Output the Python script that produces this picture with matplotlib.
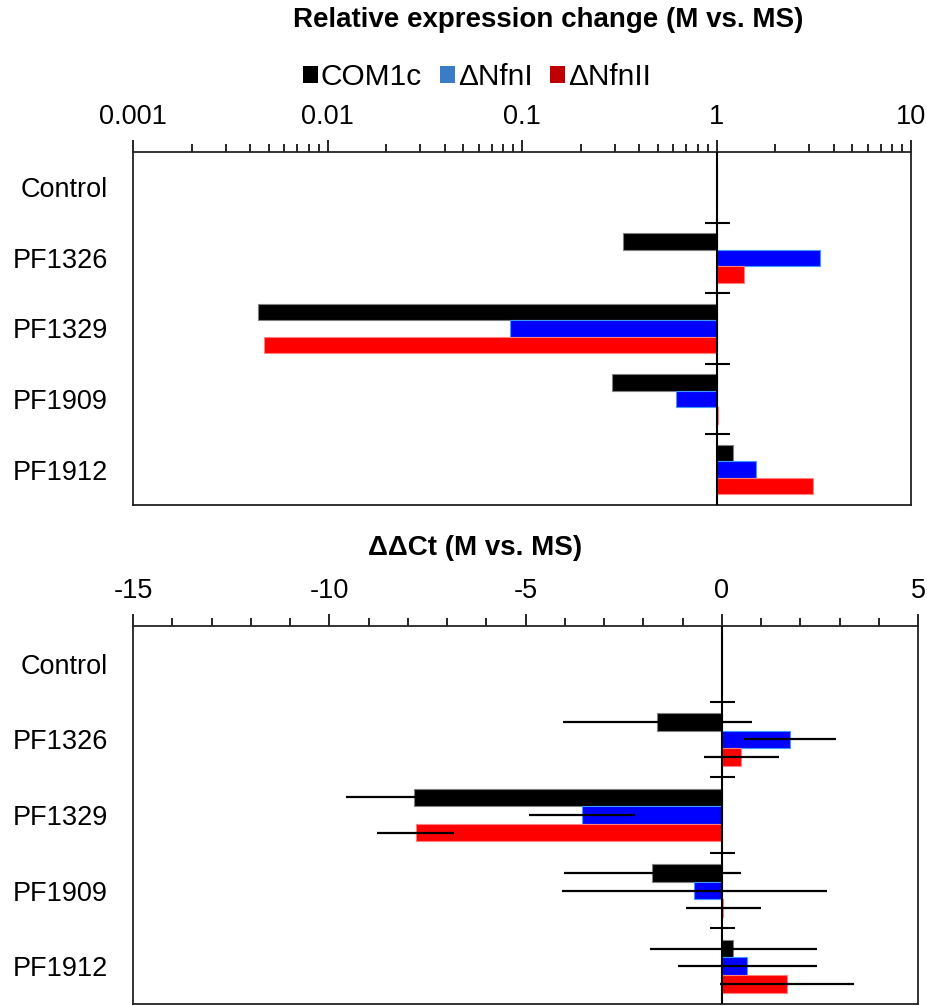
import matplotlib
matplotlib.use("Agg")
import matplotlib.pyplot as plt
from matplotlib.patches import Patch
from matplotlib.ticker import FixedLocator, NullFormatter
import numpy as np

plt.rcParams['font.family'] = ['Liberation Sans', 'DejaVu Sans']

# ---- data ----
genes = ["Control", "PF1326", "PF1329", "PF1909", "PF1912"]
strains = ["COM1c", "\u0394NfnI", "\u0394NfnII"]

# relative expression change (M vs. MS), log axis
rel_com1c = [1.0, 0.33, 0.0044, 0.29, 1.22]
rel_nfn1 = [1.0, 3.39, 0.087, 0.62, 1.59]
rel_nfn2 = [1.0, 1.39, 0.0047, 1.02, 3.12]

# ddCt (M vs. MS) with error
ddct_com1c = [0.0, -1.64, -7.85, -1.77, 0.29]
ddct_nfn1 = [0.0, 1.74, -3.57, -0.70, 0.65]
ddct_nfn2 = [0.0, 0.50, -7.80, 0.04, 1.67]
err_com1c = [0.0, 2.40, 1.73, 2.25, 2.13]
err_nfn1 = [0.0, 1.17, 1.35, 3.37, 1.77]
err_nfn2 = [0.0, 0.95, 0.99, 0.95, 1.71]

top_ticks = [0.001, 0.01, 0.1, 1, 10]
top_labels = ["0.001", "0.01", "0.1", "1", "10"]
bot_ticks = [-15, -10, -5, 0, 5]
bot_labels = ["-15", "-10", "-5", "0", "5"]

bar_colors = ["#000000", "#0000ff", "#ff0000"]
edge_colors = ["#808080", "#3d9bff", "#ff8080"]
legend_colors = ["#000000", "#3a7dc6", "#c00000"]

W, H = 927, 1006
fig = plt.figure(figsize=(W / 100, H / 100), dpi=100)

ax1 = fig.add_axes([133 / W, 1 - 505 / H, (911 - 133) / W, (505 - 152) / H])
ax2 = fig.add_axes([133 / W, 1 - 1004 / H, (918 - 133) / W, (1004 - 626) / H])

y = np.arange(len(genes))
h = 0.7 / 3
offsets = [-h, 0, h]


def style_axis(ax, base):
    for s in ax.spines.values():
        s.set_linewidth(1.3)
        s.set_color("#222222")
    ax.xaxis.tick_top()
    ax.tick_params(axis="x", which="major", direction="out", length=9, width=1.2,
                   labelsize=19.5, pad=7)
    ax.tick_params(axis="x", which="minor", direction="out", length=6, width=1.2)
    ax.set_yticks(y)
    ax.set_yticklabels(genes)
    ax.tick_params(axis="y", length=0, labelsize=19.5, pad=18)
    ax.set_ylim(len(genes) - 0.5, -0.5)
    ax.axvline(base, color="black", lw=1.5, zorder=4)
    ax.plot([base] * (len(genes) - 1), y[:-1] + 0.5, linestyle="none",
            marker="_", markersize=18, markeredgewidth=1.5, color="black", zorder=5)


# ---- top: relative expression ----
rel = [rel_com1c, rel_nfn1, rel_nfn2]
ax1.set_xscale("log")
ax1.set_xlim(0.001, 10)
for k in range(3):
    vals = np.array(rel[k])
    ax1.barh(y + offsets[k], vals - 1, left=1, height=h, color=bar_colors[k],
             edgecolor=edge_colors[k], linewidth=0.8, zorder=3)
ax1.xaxis.set_major_locator(FixedLocator(top_ticks))
ax1.set_xticklabels(top_labels)
minors = [m * 10.0 ** e for e in range(-3, 1) for m in range(2, 10)]
ax1.xaxis.set_minor_locator(FixedLocator(minors))
ax1.xaxis.set_minor_formatter(NullFormatter())
style_axis(ax1, 1)

# ---- bottom: ddCt ----
dd = [ddct_com1c, ddct_nfn1, ddct_nfn2]
ee = [err_com1c, err_nfn1, err_nfn2]
ax2.set_xlim(-15, 5)
for k in range(3):
    ax2.barh(y + offsets[k], dd[k], height=h, color=bar_colors[k],
             edgecolor=edge_colors[k], linewidth=0.8, zorder=3)
for k in range(3):
    ax2.errorbar(dd[k][1:], (y + offsets[k])[1:], xerr=ee[k][1:], fmt="none",
                 ecolor="black", elinewidth=1.6, capsize=0, zorder=6)
ax2.xaxis.set_major_locator(FixedLocator(bot_ticks))
ax2.set_xticklabels(bot_labels)
ax2.xaxis.set_minor_locator(FixedLocator(list(range(-15, 6))))
style_axis(ax2, 0)

# ---- titles and legend ----
fig.text(548 / W, 1 - 20 / H, "Relative expression change (M vs. MS)",
         ha="center", va="center", fontsize=20, fontweight="bold")
fig.text(475 / W, 1 - 548 / H, "\u0394\u0394Ct (M vs. MS)",
         ha="center", va="center", fontsize=20, fontweight="bold")

handles = [Patch(facecolor=c, edgecolor="none") for c in legend_colors]
fig.legend(handles, strains, loc="center", bbox_to_anchor=(477 / W, 1 - 77 / H),
           ncol=3, frameon=False, fontsize=21.5, handlelength=0.5, handleheight=0.5,
           handletextpad=0.1, columnspacing=0.6, borderpad=0, borderaxespad=0)

fig.savefig("out.png", dpi=100)
